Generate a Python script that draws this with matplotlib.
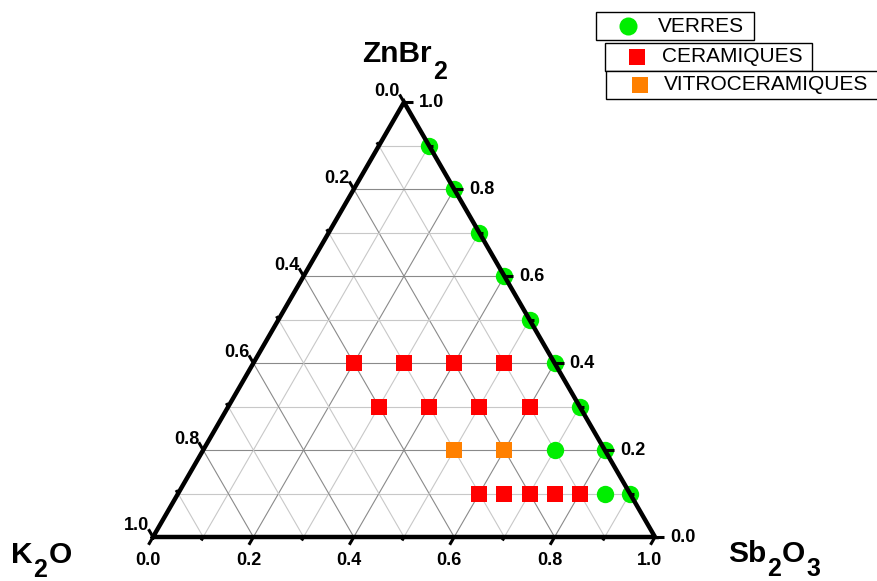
import numpy as np
import matplotlib
matplotlib.use("Agg")
import matplotlib.pyplot as plt
from matplotlib.patches import Rectangle
from matplotlib.lines import Line2D

plt.rcParams["font.family"] = ["Liberation Sans", "DejaVu Sans"]

# Compositions (molar fractions): Sb2O3 and ZnBr2, K2O = 1 - Sb2O3 - ZnBr2
verres_sb2o3 = [0.1, 0.2, 0.3, 0.4, 0.5, 0.6, 0.7, 0.8, 0.9, 0.7, 0.85]
verres_znbr2 = [0.9, 0.8, 0.7, 0.6, 0.5, 0.4, 0.3, 0.2, 0.1, 0.2, 0.1]

ceram_sb2o3 = [0.2, 0.3, 0.4, 0.5, 0.3, 0.4, 0.5, 0.6, 0.6, 0.65, 0.7, 0.75, 0.8]
ceram_znbr2 = [0.4, 0.4, 0.4, 0.4, 0.3, 0.3, 0.3, 0.3, 0.1, 0.1, 0.1, 0.1, 0.1]

vitro_sb2o3 = [0.5, 0.6]
vitro_znbr2 = [0.2, 0.2]

tick_values = [0.0, 0.2, 0.4, 0.6, 0.8, 1.0]
legend_labels = ["VERRES", "CERAMIQUES", "VITROCERAMIQUES"]

H = np.sqrt(3) / 2


def tern(sb, zn):
    sb = np.asarray(sb, float)
    zn = np.asarray(zn, float)
    return sb + zn / 2, zn * H


W, HGT = 877, 581
fig = plt.figure(figsize=(W / 100, HGT / 100), dpi=100)
ax = fig.add_axes([0, 0, 1, 1])
# one unit = triangle side; origin at the K2O corner
scale = 502.0
x0, y0 = 153.0, 537.0
ax.set_xlim(-x0 / scale, (W - x0) / scale)
ax.set_ylim((y0 - HGT) / scale, y0 / scale)
ax.set_aspect("equal")
ax.axis("off")

# grid
for i in range(1, 10):
    v = i / 10
    col = "#8a8a8a" if i % 2 == 0 else "#c8c8c8"
    # constant ZnBr2 (horizontal)
    xa, ya = tern([0, 1 - v], [v, v])
    ax.plot(xa, ya, color=col, lw=0.8, zorder=1)
    # constant Sb2O3 (parallel to left edge)
    xa, ya = tern([v, v], [0, 1 - v])
    ax.plot(xa, ya, color=col, lw=0.8, zorder=1)
    # constant K2O (parallel to right edge)
    xa, ya = tern([1 - v, 0], [0, 1 - v])
    ax.plot(xa, ya, color=col, lw=0.8, zorder=1)

# data
kw = dict(ls="none", zorder=3, markeredgewidth=0)
x, y = tern(verres_sb2o3, verres_znbr2)
ax.plot(x, y, marker="o", ms=12.5, color="#00ee00", **kw)
x, y = tern(ceram_sb2o3, ceram_znbr2)
ax.plot(x, y, marker="s", ms=12, color="#ff0000", **kw)
x, y = tern(vitro_sb2o3, vitro_znbr2)
ax.plot(x, y, marker="s", ms=12, color="#ff8000", **kw)

# triangle frame
tx, ty = tern([0, 1, 0, 0], [0, 0, 1, 0])
ax.plot(tx, ty, color="black", lw=3.2, solid_joinstyle="miter", zorder=4)

# ticks
major = 9 / scale
minor = 4 / scale
d_bottom = np.array([-0.5, -H])
d_right = np.array([1.0, 0.0])
d_left = np.array([-0.5, H])
for i in range(11):
    v = i / 10
    L = major if i % 2 == 0 else minor
    for p, d in ((np.array(tern(v, 0)), d_bottom),
                 (np.array(tern(1 - v, v)), d_right),
                 (np.array(tern(0, 1 - v)), d_left)):
        q = p + d * L
        ax.plot([p[0], q[0]], [p[1], q[1]], color="black", lw=2.2, zorder=4,
                solid_capstyle="butt")

tfont = dict(fontsize=13, fontweight="bold", zorder=5)
for v in tick_values:
    lab = f"{v:.1f}"
    bx, by = tern(v, 0)
    ax.text(bx - 5 / scale, by - 24 / scale, lab, ha="center", va="center", **tfont)
    rx, ry = tern(1 - v, v)
    ax.text(rx + 15 / scale, ry, lab, ha="left", va="center", **tfont)
    lx, ly = tern(0, 1 - v)
    ax.text(lx - 4 / scale, ly + 11 / scale, lab, ha="right", va="center", **tfont)

# corner titles with subscripts set as separate runs of text
renderer = fig.canvas.get_renderer()


def formula(parts, left_px, base_px, size=21.5, sub_size=18, sub_drop=17):
    xp = left_px
    for s, is_sub in parts:
        yb = base_px + (sub_drop if is_sub else 0)
        t = fig.text(xp / W, 1 - yb / HGT, s, fontsize=sub_size if is_sub else size,
                     fontweight="bold", ha="left", va="baseline", zorder=5)
        xp += t.get_window_extent(renderer).width + 1


formula([("ZnBr", False), ("2", True)], 362, 62)
formula([("K", False), ("2", True), ("O", False)], 11, 563, sub_drop=14)
formula([("Sb", False), ("2", True), ("O", False), ("3", True)], 728, 562, sub_drop=14)

# legend boxes
def fxy(xp, yp):
    return xp / W, 1 - yp / HGT

boxes = [(596, 12, 754, 40), (605, 43, 812, 71), (606, 71, 890, 99)]
mk = [("o", "#00ee00", 13, 628, 25.5), ("s", "#ff0000", 11, 637, 57),
      ("s", "#ff8000", 11, 640, 85)]
text_x = [658, 662, 664]
for (l, t, r, b), (m, c, s, mx, my), tx_, lab in zip(boxes, mk, text_x, legend_labels):
    rx_, ry_ = fxy(l, b)
    fig.add_artist(Rectangle((rx_, ry_), (r - l) / W, (b - t) / HGT,
                             transform=fig.transFigure, facecolor="white",
                             edgecolor="black", lw=1.0, zorder=6))
    cx, cy = fxy(mx, my)
    fig.add_artist(Line2D([cx], [cy], marker=m, color=c, ms=s, markeredgewidth=0,
                          transform=fig.transFigure, zorder=7))
    lx_, ly_ = fxy(tx_, (t + b) / 2)
    fig.text(lx_, ly_, lab, ha="left", va="center", fontsize=15, zorder=7)

fig.savefig("out.png", dpi=100)
